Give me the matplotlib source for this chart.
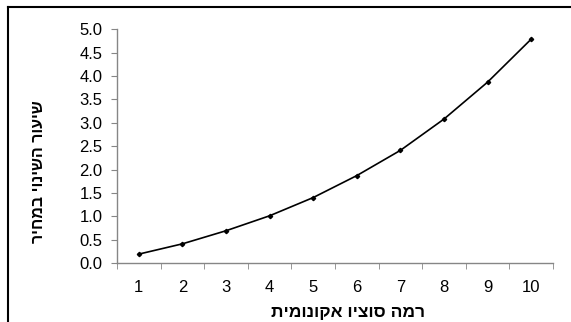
import matplotlib
matplotlib.use("Agg")
import matplotlib.pyplot as plt
from matplotlib.lines import Line2D

categories = [1, 2, 3, 4, 5, 6, 7, 8, 9, 10]
values = [0.19, 0.41, 0.69, 1.01, 1.40, 1.87, 2.41, 3.08, 3.87, 4.79]
yticks = [0.0, 0.5, 1.0, 1.5, 2.0, 2.5, 3.0, 3.5, 4.0, 4.5, 5.0]
xlabel = "רמה סוציו אקונומית"
ylabel = "שיעור השינוי במחיר"

plt.rcParams['font.family'] = ['Liberation Sans', 'DejaVu Sans']

fig = plt.figure(figsize=(5.71, 3.22), dpi=100)
ax = fig.add_axes([117/571, 1-263/322, (553-117)/571, (263-29.3)/322])

x = list(range(len(categories)))
ax.plot(x, values, color='black', lw=1.2, marker='D', ms=2.2)
ax.set_xlim(-0.5, len(categories) - 0.5)
ax.set_ylim(0, 5)
ax.set_yticks(yticks)
ax.set_yticklabels([f"{v:.1f}" for v in yticks], fontsize=12)
ax.set_xticks(x)
ax.set_xticklabels([str(c) for c in categories], fontsize=12)
# category boundary ticks
ax.set_xticks([i - 0.5 for i in range(len(categories) + 1)], minor=True)
ax.tick_params(axis='x', which='major', length=0, pad=12)
ax.tick_params(axis='x', which='minor', length=4.5, color='#868686', direction='out')
ax.tick_params(axis='y', length=4.5, color='#868686', pad=6)
for s in ['top', 'right']:
    ax.spines[s].set_visible(False)
for s in ['left', 'bottom']:
    ax.spines[s].set_color('#868686')
    ax.spines[s].set_linewidth(1.0)

fig.text(348/571, 1-313/322, xlabel[::-1], ha='center', va='center',
         fontsize=12.5, fontweight='bold')
fig.text(38.5/571, 1-172/322, ylabel[::-1], ha='center', va='center',
         rotation=90, fontsize=11.5, fontweight='bold')

# border (top and left visible)
fig.add_artist(Line2D([8/571, 1.0], [1-7/322, 1-7/322], color='black', lw=1.5,
                      transform=fig.transFigure))
fig.add_artist(Line2D([8/571, 8/571], [0, 1-7/322], color='black', lw=1.5,
                      transform=fig.transFigure))

fig.savefig("out.png", dpi=100)
